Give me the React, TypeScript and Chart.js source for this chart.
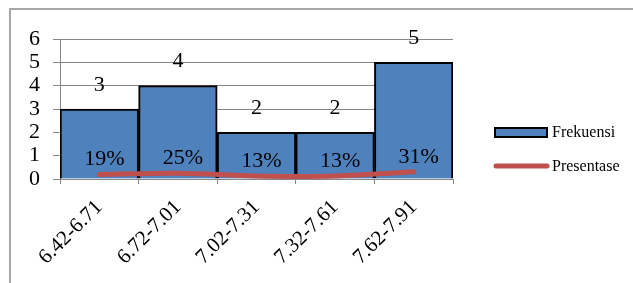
import React, { useEffect, useRef } from "react";
import { Chart, registerables } from "chart.js";

Chart.register(...registerables);

const categories = ["6.42-6.71", "6.72-7.01", "7.02-7.31", "7.32-7.61", "7.62-7.91"];
const frekuensi = [3, 4, 2, 2, 5];
const presentase = [0.19, 0.25, 0.13, 0.13, 0.31];
const yTicks = [0, 1, 2, 3, 4, 5, 6];

const FONT = "'Liberation Serif', 'Times New Roman', serif";

const frameAndLabels = {
  id: "frameAndLabels",
  afterDatasetsDraw(chart: any) {
    const ctx = chart.ctx;
    ctx.save();
    ctx.fillStyle = "#000";
    ctx.font = `22px ${FONT}`;
    ctx.textAlign = "center";
    ctx.textBaseline = "middle";
    const barMeta = chart.getDatasetMeta(0);
    barMeta.data.forEach((el: any, i: number) => {
      ctx.fillText(String(frekuensi[i]), el.x, el.y - 24);
    });
    const lineMeta = chart.getDatasetMeta(1);
    lineMeta.data.forEach((el: any, i: number) => {
      ctx.fillText(Math.round(presentase[i] * 100) + "%", el.x + 5, el.y - 15);
    });
    ctx.restore();
  },
  afterDraw(chart: any) {
    const ctx = chart.ctx;
    ctx.save();
    // outer frame
    ctx.strokeStyle = "#a6a6a6";
    ctx.lineWidth = 2;
    ctx.beginPath();
    ctx.moveTo(10, 290);
    ctx.lineTo(10, 9);
    ctx.lineTo(640, 9);
    ctx.stroke();
    // legend
    const ds = chart.data.datasets;
    ctx.font = `16px ${FONT}`;
    ctx.textBaseline = "middle";
    ctx.textAlign = "left";
    ctx.fillStyle = "#4F81BD";
    ctx.fillRect(495, 128, 52, 9);
    ctx.strokeStyle = "#000";
    ctx.lineWidth = 2;
    ctx.strokeRect(495, 128, 52, 9);
    ctx.fillStyle = "#000";
    ctx.fillText(ds[0].label, 552, 133);
    ctx.strokeStyle = "#C0504D";
    ctx.lineWidth = 5;
    ctx.lineCap = "round";
    ctx.beginPath();
    ctx.moveTo(496, 166);
    ctx.lineTo(547, 166);
    ctx.stroke();
    ctx.fillText(ds[1].label, 552, 167);
    ctx.restore();
  },
};

export default function App() {
  const ref = useRef<HTMLCanvasElement | null>(null);
  useEffect(() => {
    if (!ref.current) return;
    const chart = new Chart(ref.current, {
      type: "bar",
      data: {
        labels: categories,
        datasets: [
          {
            type: "bar",
            label: "Frekuensi",
            data: frekuensi,
            backgroundColor: "#4F81BD",
            borderColor: "#000",
            borderWidth: 2,
            barPercentage: 1,
            categoryPercentage: 1,
            order: 2,
          },
          {
            type: "line",
            label: "Presentase",
            data: presentase,
            borderColor: "#C0504D",
            borderWidth: 5,
            pointRadius: 0,
            tension: 0.4,
            borderCapStyle: "round",
            order: 1,
          } as any,
        ],
      },
      options: {
        animation: false,
        responsive: false,
        maintainAspectRatio: false,
        layout: { padding: { left: 0, top: 39, right: 180, bottom: 0 } },
        plugins: { legend: { display: false }, tooltip: { enabled: false } },
        scales: {
          x: {
            offset: true,
            grid: {
              offset: true,
              drawOnChartArea: false,
              drawTicks: true,
              tickLength: 5,
              color: "#868686",
            },
            border: { color: "#868686", width: 1 },
            ticks: {
              minRotation: 45,
              maxRotation: 45,
              autoSkip: false,
              padding: 11,
              color: "#000",
              font: { family: FONT, size: 21 },
            },
            afterFit: (s: any) => {
              s.height = 104;
            },
          },
          y: {
            min: 0,
            max: 6,
            afterBuildTicks: (s: any) => {
              s.ticks = yTicks.map((v) => ({ value: v }));
            },
            grid: { color: "#868686", tickLength: 7 },
            border: { color: "#868686", width: 1 },
            ticks: {
              autoSkip: false,
              padding: 13,
              color: "#000",
              font: { family: FONT, size: 22 },
            },
            afterFit: (s: any) => {
              s.width = 60;
            },
          },
        },
      },
      plugins: [frameAndLabels],
    });
    return () => chart.destroy();
  }, []);
  return (
    <div style={{ position: "fixed", left: 0, top: 0, width: 633, height: 283, background: "#fff" }}>
      <canvas ref={ref} width={633} height={283} style={{ width: 633, height: 283, display: "block" }} />
    </div>
  );
}
